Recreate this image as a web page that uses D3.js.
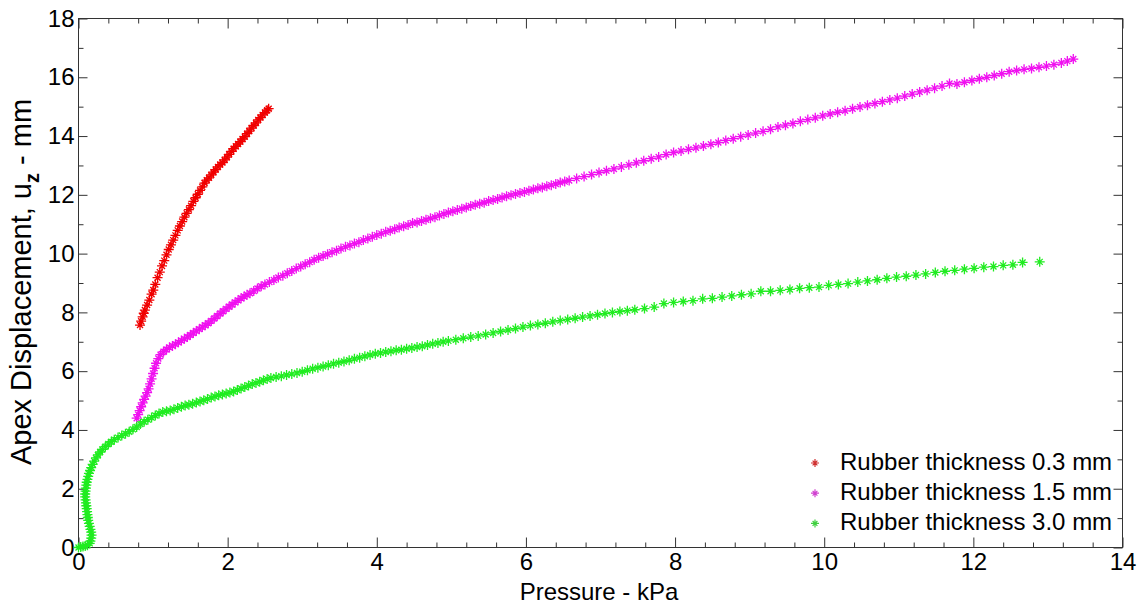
<!DOCTYPE html>
<html>
<head>
<meta charset="utf-8">
<title>Apex displacement</title>
<script src="https://d3js.org/d3.v7.min.js"></script>
<style>
  body { margin: 0; background: #fff; }
  text { font-family: Arial, "Liberation Sans", sans-serif; fill: #000; }
</style>
</head>
<body>
<div id="chart"></div>
<script>
// data: [pressure kPa, displacement mm]
var t03 = [[0.825,7.57],[0.84,7.70],[0.86,7.85],[0.875,7.97],[0.89,8.08],[0.92,8.25],[0.95,8.42],[0.98,8.62],[1.003,8.76],[1.03,8.95],[1.06,9.18],[1.09,9.37],[1.12,9.58],[1.15,9.76],[1.18,9.96],[1.21,10.14],[1.24,10.30],[1.27,10.46],[1.30,10.62],[1.33,10.79],[1.36,10.94],[1.39,11.09],[1.42,11.24],[1.45,11.37],[1.48,11.50],[1.51,11.63],[1.54,11.78],[1.57,11.90],[1.60,12.02],[1.63,12.15],[1.66,12.27],[1.69,12.40],[1.72,12.50],[1.75,12.58],[1.78,12.68],[1.81,12.77],[1.84,12.86],[1.87,12.95],[1.90,13.03],[1.93,13.10],[1.96,13.19],[1.99,13.28],[2.02,13.38],[2.05,13.48],[2.08,13.57],[2.11,13.65],[2.14,13.73],[2.17,13.81],[2.20,13.90],[2.23,13.98],[2.26,14.08],[2.29,14.17],[2.32,14.27],[2.35,14.36],[2.38,14.45],[2.41,14.55],[2.44,14.63],[2.47,14.72],[2.50,14.80],[2.53,14.88],[2.55,14.93]];

var t15 = [[0.78,4.40],[0.80,4.52],[0.82,4.66],[0.84,4.79],[0.86,4.92],[0.88,5.04],[0.90,5.15],[0.92,5.27],[0.94,5.40],[0.96,5.57],[0.98,5.74],[1.00,5.92],[1.02,6.10],[1.04,6.27],[1.07,6.43],[1.10,6.56],[1.14,6.66],[1.18,6.74],[1.22,6.81],[1.26,6.86],[1.30,6.92],[1.34,6.98],[1.38,7.04],[1.42,7.10],[1.46,7.16],[1.50,7.23],[1.54,7.30],[1.58,7.37],[1.62,7.43],[1.66,7.50],[1.70,7.56],[1.74,7.63],[1.78,7.71],[1.82,7.79],[1.86,7.88],[1.90,7.96],[1.94,8.04],[1.98,8.12],[2.02,8.19],[2.06,8.27],[2.10,8.34],[2.14,8.41],[2.18,8.48],[2.22,8.54],[2.26,8.60],[2.30,8.65],[2.35,8.73],[2.40,8.81],[2.45,8.89],[2.50,8.95],
  [2.56,9.03],[2.62,9.10],[2.68,9.19],[2.74,9.25],[2.80,9.33],[2.86,9.41],[2.92,9.49],[2.98,9.56],[3.04,9.64],[3.10,9.71],[3.16,9.79],[3.22,9.86],[3.28,9.92],[3.34,9.98],[3.40,10.05],[3.46,10.10],[3.52,10.17],[3.58,10.23],[3.64,10.28],[3.70,10.34],[3.76,10.39],[3.82,10.46],[3.88,10.51],[3.94,10.57],[4.00,10.63],[4.06,10.68],[4.12,10.74],[4.18,10.78],[4.24,10.83],[4.30,10.89],[4.36,10.93],[4.42,10.97],[4.48,11.04],[4.54,11.06],[4.60,11.11],[4.66,11.15],[4.72,11.20],[4.78,11.24],[4.84,11.30],[4.90,11.35],[4.96,11.40],[5.02,11.44],[5.08,11.48],[5.14,11.53],[5.20,11.57],[5.26,11.62],[5.32,11.66],[5.38,11.70],[5.44,11.73],[5.50,11.79],[5.56,11.82],[5.62,11.86],[5.68,11.91],[5.74,11.95],[5.80,11.99],[5.86,12.03],[5.92,12.06],[5.98,12.10],[6.04,12.14],[6.10,12.18],[6.16,12.22],[6.22,12.25],[6.28,12.29],[6.34,12.33],[6.40,12.37],[6.46,12.42],[6.52,12.45],[6.58,12.49],
  [6.68,12.56],[6.78,12.62],[6.88,12.69],[6.98,12.76],[7.08,12.82],[7.18,12.88],[7.28,12.95],[7.38,13.02],[7.48,13.09],[7.58,13.16],[7.68,13.23],[7.78,13.29],[7.88,13.37],[7.98,13.44],[8.08,13.49],[8.18,13.55],[8.28,13.60],[8.38,13.66],[8.48,13.72],[8.58,13.78],[8.68,13.85],[8.78,13.91],[8.88,13.98],[8.98,14.04],[9.08,14.10],[9.18,14.16],[9.28,14.23],[9.38,14.31],[9.48,14.37],[9.58,14.43],[9.68,14.50],[9.78,14.56],[9.88,14.62],[9.98,14.69],[10.08,14.75],[10.18,14.81],[10.28,14.86],[10.38,14.93],[10.48,14.99],[10.58,15.05],[10.68,15.11],[10.78,15.17],[10.88,15.23],[10.98,15.29],[11.08,15.36],[11.18,15.43],[11.28,15.50],[11.38,15.56],[11.48,15.63],[11.58,15.70],[11.68,15.79],[11.78,15.77],[11.88,15.83],[11.98,15.89],[12.08,15.95],[12.18,16.00],[12.28,16.06],[12.38,16.12],[12.48,16.19],[12.58,16.23],[12.68,16.27],[12.78,16.30],[12.88,16.34],[12.98,16.38],[13.08,16.43],[13.18,16.49],[13.26,16.55],[13.34,16.62]];

var t30 = [[0.00,0.00],[0.03,0.02],[0.06,0.03],[0.09,0.05],[0.12,0.08],[0.15,0.14],[0.16,0.22],[0.17,0.32],[0.175,0.42],[0.17,0.52],[0.16,0.62],[0.15,0.72],[0.14,0.82],[0.13,0.92],[0.125,1.02],[0.12,1.12],[0.115,1.22],[0.11,1.32],[0.105,1.42],[0.10,1.52],[0.095,1.62],[0.09,1.72],[0.09,1.82],[0.095,1.92],[0.10,2.02],[0.105,2.12],[0.11,2.22],[0.12,2.32],[0.13,2.42],[0.14,2.52],[0.155,2.62],[0.17,2.72],[0.19,2.83],[0.21,2.94],[0.235,3.05],[0.26,3.15],[0.29,3.25],[0.32,3.34],[0.36,3.43],[0.40,3.52],[0.44,3.60],[0.48,3.67],[0.53,3.74],[0.58,3.81],[0.63,3.87],[0.68,3.94],[0.73,4.02],[0.78,4.10],[0.83,4.20],[0.88,4.28],[0.93,4.35],[0.98,4.42],[1.03,4.49],[1.08,4.56],[1.13,4.61],[1.18,4.64],[1.23,4.66],[1.28,4.70],[1.33,4.75],[1.38,4.79],[1.43,4.83],[1.48,4.86],[1.53,4.89],[1.58,4.93],[1.63,4.97],[1.68,5.01],[1.73,5.05],[1.78,5.10],[1.83,5.14],[1.88,5.18],[1.93,5.21],[1.98,5.24],[2.03,5.27],[2.08,5.31],[2.13,5.36],[2.18,5.41],[2.23,5.46],[2.28,5.51],[2.33,5.56],[2.38,5.60],[2.43,5.64],[2.48,5.69],[2.53,5.73],[2.58,5.77],
  [2.65,5.80],[2.72,5.83],[2.79,5.87],[2.86,5.90],[2.93,5.94],[3.00,5.98],[3.07,6.03],[3.14,6.08],[3.21,6.12],[3.28,6.16],[3.35,6.20],[3.42,6.25],[3.49,6.29],[3.56,6.33],[3.63,6.37],[3.70,6.42],[3.77,6.46],[3.84,6.51],[3.91,6.55],[3.98,6.59],[4.05,6.62],[4.12,6.65],[4.19,6.68],[4.26,6.71],[4.33,6.73],[4.40,6.76],[4.47,6.79],[4.54,6.82],[4.61,6.85],[4.68,6.89],[4.75,6.93],[4.82,6.96],[4.89,7.00],[4.96,7.03],
  [5.06,7.07],[5.16,7.12],[5.26,7.16],[5.36,7.20],[5.46,7.25],[5.56,7.30],[5.66,7.35],[5.76,7.40],[5.86,7.45],[5.96,7.50],[6.06,7.55],[6.16,7.59],[6.26,7.63],[6.36,7.68],[6.46,7.72],[6.56,7.76],[6.66,7.80],[6.76,7.84],[6.86,7.88],[6.96,7.92],[7.06,7.96],[7.16,8.00],[7.26,8.03],[7.36,8.06],[7.46,8.09],
  [7.59,8.13],[7.72,8.18],[7.85,8.30],[7.98,8.34],[8.11,8.37],[8.24,8.40],[8.37,8.46],[8.50,8.48],[8.63,8.52],[8.76,8.56],[8.89,8.60],[9.02,8.63],[9.15,8.72],[9.28,8.72],[9.41,8.75],[9.54,8.78],[9.67,8.82],[9.80,8.84],[9.93,8.86],[10.06,8.92],[10.19,8.95],[10.32,8.98],[10.45,9.03],[10.58,9.07],[10.71,9.11],[10.84,9.16],[10.97,9.20],[11.10,9.23],[11.23,9.27],[11.36,9.31],[11.49,9.36],[11.62,9.40],[11.75,9.43],[11.88,9.47],[12.01,9.50],[12.14,9.54],[12.27,9.56],[12.40,9.60],[12.53,9.62],[12.66,9.70],[12.89,9.72]];

var legendLabels = ["Rubber thickness 0.3 mm", "Rubber thickness 1.5 mm", "Rubber thickness 3.0 mm"];
var xTicks = [0, 2, 4, 6, 8, 10, 12, 14];
var yTicks = [0, 2, 4, 6, 8, 10, 12, 14, 16, 18];

var width = 1141, height = 606;
var pLeft = 78.5, pRight = 1122.5, pTop = 18.5, pBottom = 547.5;
var fontSize = "24px";

var series = [
  { data: t03, color: "#f00000", legend: "#d03030" },
  { data: t15, color: "#f010f0", legend: "#d040d0" },
  { data: t30, color: "#20ec20", legend: "#40d040" }
];

var svg = d3.select("#chart").append("svg")
  .attr("width", width)
  .attr("height", height);

var x = d3.scaleLinear().domain([0, 14]).range([pLeft, pRight]);
var y = d3.scaleLinear().domain([0, 18]).range([pBottom, pTop]);

var xMinor = d3.range(0, 14.01, 0.4).filter(function(v) { return Math.abs(v / 2 - Math.round(v / 2)) > 0.01; });
var yMinor = d3.range(1, 18, 2);

// axes, ticks pointing inward like matlab
function axisG(axis, tr) {
  var g = svg.append("g").attr("transform", tr).call(axis);
  g.select(".domain").remove();
  g.selectAll("line").attr("stroke", "#333");
  return g;
}

axisG(d3.axisBottom(x).tickValues(xTicks).tickSize(-10).tickPadding(5).tickFormat(d3.format("d")), "translate(0," + pBottom + ")")
  .selectAll("text").style("font-size", fontSize).attr("fill", "#000");
axisG(d3.axisBottom(x).tickValues(xMinor).tickSize(-5).tickFormat(""), "translate(0," + pBottom + ")");
axisG(d3.axisTop(x).tickValues(xTicks).tickSize(-10).tickFormat(""), "translate(0," + pTop + ")");
axisG(d3.axisTop(x).tickValues(xMinor).tickSize(-5).tickFormat(""), "translate(0," + pTop + ")");

axisG(d3.axisLeft(y).tickValues(yTicks).tickSize(-9).tickPadding(4).tickFormat(d3.format("d")), "translate(" + pLeft + ",0)")
  .selectAll("text").style("font-size", fontSize).attr("fill", "#000");
axisG(d3.axisLeft(y).tickValues(yMinor).tickSize(-5).tickFormat(""), "translate(" + pLeft + ",0)");
axisG(d3.axisRight(y).tickValues(yTicks).tickSize(-9).tickFormat(""), "translate(" + pRight + ",0)");
axisG(d3.axisRight(y).tickValues(yMinor).tickSize(-5).tickFormat(""), "translate(" + pRight + ",0)");

svg.append("rect")
  .attr("x", pLeft).attr("y", pTop)
  .attr("width", pRight - pLeft).attr("height", pBottom - pTop)
  .attr("fill", "none").attr("stroke", "#333").attr("stroke-width", 1);

// star-like marker
function star(r) {
  var d = r * 0.6;
  return "M" + (-r) + ",0H" + r + "M0," + (-r) + "V" + r +
    "M" + (-d) + "," + (-d) + "L" + d + "," + d + "M" + (-d) + "," + d + "L" + d + "," + (-d);
}

series.forEach(function(s) {
  svg.append("g")
    .selectAll("path")
    .data(s.data)
    .enter()
    .append("path")
      .attr("transform", function(d) { return "translate(" + x(d[0]) + "," + y(d[1]) + ")"; })
      .attr("d", star(5))
      .attr("fill", "none")
      .attr("stroke", s.color)
      .attr("stroke-width", 1.3);
});

// legend
var legend = svg.append("g");
series.forEach(function(s, i) {
  var ly = 463 + i * 30.2;
  legend.append("path")
    .attr("transform", "translate(815," + ly + ")")
    .attr("d", star(4))
    .attr("fill", "none")
    .attr("stroke", s.legend)
    .attr("stroke-width", 1.2);
  legend.append("text")
    .attr("x", 840).attr("y", ly + 7)
    .style("font-size", fontSize)
    .text(legendLabels[i]);
});

// axis titles
svg.append("text")
  .attr("x", 599).attr("y", 600)
  .attr("text-anchor", "middle")
  .style("font-size", fontSize)
  .text("Pressure - kPa");

var yl = svg.append("text")
  .attr("transform", "translate(31,282) rotate(-90)")
  .attr("text-anchor", "middle")
  .style("font-size", "29px");
yl.append("tspan").text("Apex Displacement, u");
yl.append("tspan").attr("dy", 8).style("font-size", "20px").style("font-weight", "bold").text("z");
yl.append("tspan").attr("dy", -8).text(" - mm");
</script>
</body>
</html>
